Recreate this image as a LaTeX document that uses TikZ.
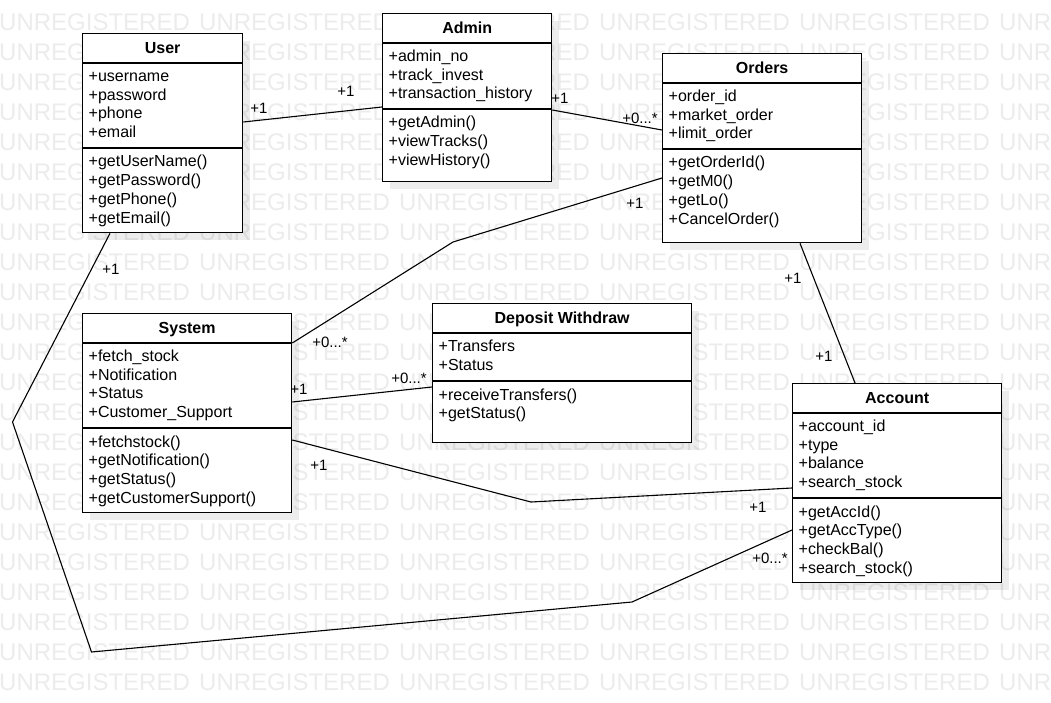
\documentclass[tikz,border=0pt]{standalone}
\usepackage{fontspec}
\setmainfont{Liberation Sans}
\usetikzlibrary{calc}
\definecolor{wmgray}{RGB}{236,236,236}
\tikzset{
 classbox/.style={draw=black, line width=1.3pt, fill=white, inner sep=0pt, anchor=north west},
 shadowbox/.style={fill=black, fill opacity=0.07},
 divider/.style={draw=black, line width=1.3pt},
 titletext/.style={font=\fontsize{16}{19}\selectfont\bfseries, inner sep=0pt, anchor=base},
 membertext/.style={font=\fontsize{16}{19}\selectfont, inner sep=0pt, anchor=base west},
 multlabel/.style={font=\fontsize{15}{17}\selectfont, inner sep=0pt},
 assoc/.style={draw=black, line width=1.1pt, line join=miter},
 wm/.style={font=\fontsize{24}{28}\selectfont, text=wmgray, inner sep=0pt, anchor=base west},
}
\newcommand\classbox[9]{%
 \fill[shadowbox] ({#2+8},{#3+8}) rectangle ++(#4,#5);
 \node[classbox, minimum width=#4pt, minimum height=#5pt] (#1) at (#2,#3) {};
 \draw[divider] ($(#1.north west)+(0,30)$) -- ($(#1.north east)+(0,30)$);
 \draw[divider] ($(#1.north west)+(0,#6)$) -- ($(#1.north east)+(0,#6)$);
 \node[titletext] (#1-title) at ($(#1.north)+(0,20.5)$) {#7};
 \foreach \t [count=\i] in {#8} \node[membertext] (#1-a\i) at ($(#1.north west)+(6.5,{29.8+18.7*\i})$) {\t};
 \foreach \t [count=\i] in {#9} \node[membertext] (#1-m\i) at ($(#1.north west)+(6.5,{#6+0.3+18.7*\i})$) {\t};
}
\begin{document}
\begin{tikzpicture}[x=1pt,y=-1pt]
\useasboundingbox (0,0) rectangle (1051,703);
\fill[white] (0,0) rectangle (1051,703);
% watermark
\begin{scope}
\clip (0,0) rectangle (1051,703);
\foreach \r in {0,...,22}{
 \foreach \c in {0,...,5}{
  \node[wm] at ({200*\c-1},{30.8+30*\r}) {UNREGISTERED};
 }
}
\end{scope}
% classes
\classbox{user}{82}{33}{160}{199}{115}{User}{+username,+password,+phone,+email}{+getUserName(),+getPassword(),+getPhone(),+getEmail()}
\classbox{admin}{382}{13}{169}{168}{96}{Admin}{+admin\_no,+track\_invest,+transaction\_history}{+getAdmin(),+viewTracks(),+viewHistory()}
\classbox{orders}{662}{53}{199}{189}{96}{Orders}{+order\_id,+market\_order,+limit\_order}{+getOrderId(),+getM0(),+getLo(),+CancelOrder()}
\classbox{system}{82}{313}{209}{199}{115}{System}{+fetch\_stock,+Notification,+Status,+Customer\_Support}{+fetchstock(),+getNotification(),+getStatus(),+getCustomerSupport()}
\classbox{deposit}{432}{303}{259}{139}{78}{Deposit Withdraw}{+Transfers,+Status}{+receiveTransfers(),+getStatus()}
\classbox{account}{792}{383}{209}{199}{115}{Account}{+account\_id,+type,+balance,+search\_stock}{+getAccId(),+getAccType(),+checkBal(),+search\_stock()}
% bend points
\coordinate (b1) at (453,242);
\coordinate (b2) at (531,502);
\coordinate (b3) at (12.5,422);
\coordinate (b4) at (91.5,652);
\coordinate (b5) at (632,602);
% associations
\draw[assoc] ($(user.north east)+(0,89)$) -- ($(admin.north west)+(0,94)$);
\draw[assoc] ($(admin.north east)+(0,97)$) -- ($(orders.north west)+(0,77)$);
\draw[assoc] ($(system.north east)+(0,30)$) -- (b1) -- ($(orders.north west)+(0,125)$);
\draw[assoc] ($(system.north east)+(0,89)$) -- ($(deposit.north west)+(0,84)$);
\draw[assoc] ($(system.north east)+(0,127)$) -- (b2) -- ($(account.north west)+(0,105)$);
\draw[assoc] ($(user.south west)+(28,0)$) -- (b3) -- (b4) -- (b5) -- ($(account.north west)+(0,147)$);
\draw[assoc] ($(orders.south west)+(138,0)$) -- ($(account.north west)+(63,0)$);
% multiplicities
\node[multlabel] (l1) at (259,108) {+1};
\node[multlabel] (l2) at (346,91) {+1};
\node[multlabel] (l3) at (560,98) {+1};
\node[multlabel] (l4) at (640,118) {+0...*};
\node[multlabel] (l5) at (635,203) {+1};
\node[multlabel] (l6) at (330,342) {+0...*};
\node[multlabel] (l7) at (299,389) {+1};
\node[multlabel] (l8) at (409,378) {+0...*};
\node[multlabel] (l9) at (319,465) {+1};
\node[multlabel] (l10) at (758,507) {+1};
\node[multlabel] (l11) at (770,558) {+0...*};
\node[multlabel] (l12) at (111,269) {+1};
\node[multlabel] (l13) at (793,278) {+1};
\node[multlabel] (l14) at (824,356) {+1};
\end{tikzpicture}
\end{document}
